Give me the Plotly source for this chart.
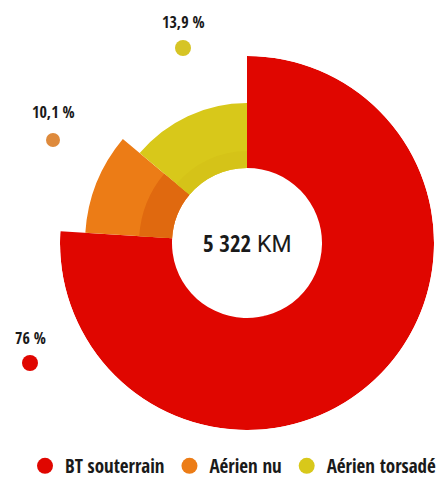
import plotly.graph_objects as go

# ---- data ----
categories = ["BT souterrain", "Aérien nu", "Aérien torsadé"]
shares = [76, 10.1, 13.9]            # percent
share_labels = ["76 %", "10,1 %", "13,9 %"]
total_value = "5 322"
total_unit = "KM"

# ---- style ----
colors = ["#E00600", "#EC7C16", "#D8C81A"]
shade_colors = ["#E00600", "#E0690F", "#D5C318"]
dot_colors = ["#E00600", "#DE8A3C", "#D6C425"]
outer_r = [187, 162, 140]
inner_r = 75
shade_r = [75, 108, 92]
FONT = "Open Sans Condensed, DejaVu Sans Condensed, sans-serif"
INK = "#1a1a1a"

# angles from cumulative shares
starts, widths = [], []
acc = 0
for s in shares:
    starts.append(acc * 3.6)
    widths.append(s * 3.6)
    acc += s
centers = [a + w / 2 for a, w in zip(starts, widths)]

fig = go.Figure()
fig.add_trace(go.Barpolar(
    r=[o - inner_r for o in outer_r], base=inner_r,
    theta=centers, width=widths,
    marker=dict(color=colors, line=dict(width=0)),
    showlegend=False, hoverinfo="skip"))
# inner darker shading band
fig.add_trace(go.Barpolar(
    r=[max(sr - inner_r, 0.001) for sr in shade_r], base=inner_r,
    theta=centers, width=widths,
    marker=dict(color=shade_colors, line=dict(width=0)),
    showlegend=False, hoverinfo="skip"))
# legend entries
for c, col in zip(categories, colors):
    fig.add_trace(go.Scatterpolar(r=[None], theta=[None], mode="markers", name=c,
                                  marker=dict(color=col, size=16, symbol="circle")))

W, H = 445, 489
cx, cy, R = 247, 243, 187
fig.update_layout(
    width=W, height=H, margin=dict(l=0, r=0, t=0, b=0),
    paper_bgcolor="white", plot_bgcolor="white",
    polar=dict(
        domain=dict(x=[(cx - R) / W, (cx + R) / W], y=[(H - cy - R) / H, (H - cy + R) / H]),
        bgcolor="rgba(0,0,0,0)",
        radialaxis=dict(range=[0, R], visible=False),
        angularaxis=dict(direction="clockwise", rotation=90, visible=False),
        barmode="overlay",
    ),
    legend=dict(orientation="h", x=25 / W, xanchor="left", y=(H - 466) / H, yanchor="middle",
                font=dict(family=FONT, size=19, color=INK, weight="bold"),
                itemsizing="trace", tracegroupgap=0),
    font=dict(family=FONT),
)

# center text
fig.add_annotation(x=cx / W, y=(H - cy) / H, xref="paper", yref="paper",
                   xanchor="center", yanchor="middle",
                   text=f"<b>{total_value}</b> <span style='font-family:Roboto;font-weight:400'>{total_unit}</span>",
                   showarrow=False, font=dict(family=FONT, size=23, color=INK))

# share labels and dots
label_pos = [(30, 338, 363, 8), (53, 112, 140, 7), (183, 22, 48, 8)]
for lab, col, (x, ty, dy, rad) in zip(share_labels, dot_colors, label_pos):
    fig.add_annotation(x=x / W, y=(H - ty) / H, xref="paper", yref="paper", text=f"<b>{lab}</b>",
                       xanchor="center", yanchor="middle",
                       showarrow=False, font=dict(family=FONT, size=16, color=INK))
    fig.add_shape(type="circle", xref="paper", yref="paper",
                  x0=(x - rad) / W, x1=(x + rad) / W, y0=(H - dy - rad) / H, y1=(H - dy + rad) / H,
                  fillcolor=col, line=dict(width=0))

fig.write_html("out.html", config={"displayModeBar": False},
               post_script="document.body.style.margin='0';")
